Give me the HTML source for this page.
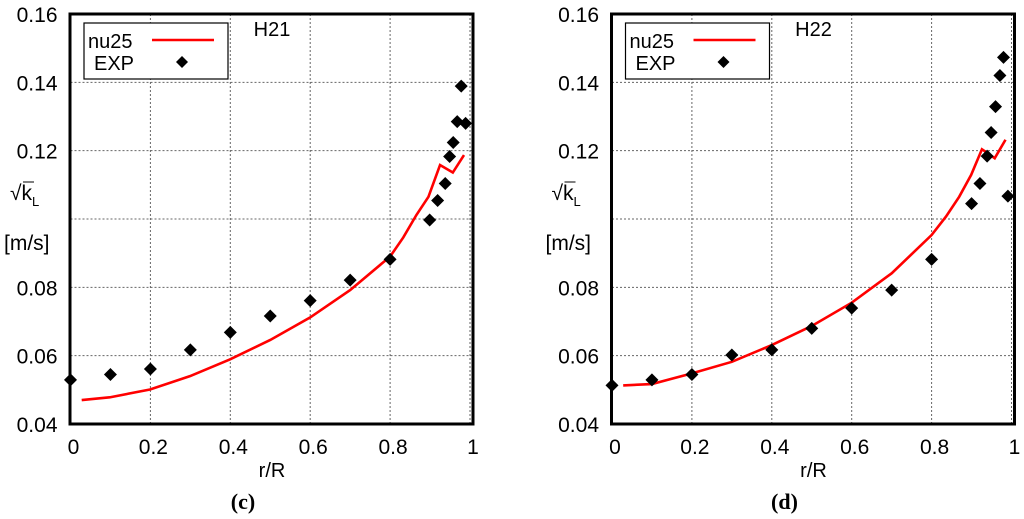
<!DOCTYPE html>
<html><head><meta charset="utf-8"><style>
body{margin:0;background:#fff;}
svg{display:block;font-family:"Liberation Sans",sans-serif;}
</style></head><body>
<svg id="c" width="1024" height="519"></svg>
<script>
const xTicks=[0,0.2,0.4,0.6,0.8,1];
const xTickLabels=["0","0.2","0.4","0.6","0.8","1"];
const yTicks=[0.04,0.06,0.08,0.10,0.12,0.14,0.16];
const yTickLabels=["0.04","0.06","0.08","","0.12","0.14","0.16"];
const h21ExpX=[0,0.1,0.2,0.3,0.4,0.5,0.6,0.7,0.8,0.899,0.919,0.938,0.949,0.958,0.968,0.978,0.989];
const h21ExpY=[0.0529,0.0545,0.0561,0.0617,0.0668,0.0716,0.0761,0.0821,0.0882,0.0997,0.1054,0.1104,0.1183,0.1224,0.1285,0.1389,0.1280];
const h21LineX=[0.028,0.098,0.199,0.299,0.399,0.5,0.6,0.7,0.8,0.833,0.866,0.896,0.925,0.957,0.985];
const h21LineY=[0.047,0.0478,0.0501,0.054,0.0589,0.0646,0.0712,0.0792,0.089,0.0946,0.1012,0.1065,0.1158,0.1136,0.1187];
const h22ExpX=[0,0.1,0.2,0.3,0.4,0.5,0.6,0.7,0.8,0.9,0.921,0.939,0.949,0.96,0.971,0.98,0.991];
const h22ExpY=[0.0513,0.0529,0.0545,0.0602,0.0617,0.068,0.0739,0.0792,0.0882,0.1045,0.1104,0.1184,0.1253,0.1329,0.142,0.1473,0.1067];
const h22LineX=[0.028,0.1,0.2,0.3,0.4,0.5,0.6,0.7,0.8,0.836,0.869,0.899,0.926,0.935,0.958,0.985];
const h22LineY=[0.0513,0.0517,0.0548,0.0582,0.0631,0.0687,0.0755,0.0841,0.0953,0.1007,0.1065,0.1129,0.1204,0.1197,0.1178,0.1232];

const svg=document.getElementById('c');
const NS='http://www.w3.org/2000/svg';
function mk(tag,attrs,parent,text){const e=document.createElementNS(NS,tag);for(const k in attrs)e.setAttribute(k,attrs[k]);if(text!==undefined)e.textContent=text;parent.appendChild(e);return e;}

function panel(off,title,letter,lx,ly,ex,ey,name){
  const g=mk('g',{},svg);
  
  
  const x0=70.5+off,x1=470+off,yb=424,yt=14;
  const sx=v=>x0+(x1-x0)*v;
  const sy=v=>yb-(yb-yt)*(v-0.04)/0.12;
  xTicks.forEach((t,i)=>{
    if(i>0){const l=mk('line',{x1:sx(t),x2:sx(t),y1:yt,y2:yb,stroke:'#666','stroke-width':1,'stroke-dasharray':'2,2'},g);}
    const tl=mk('text',{x:sx(t)+3,y:454,'font-size':21,'text-anchor':'middle',fill:'#000'},g,xTickLabels[i]);
    
  });
  yTicks.forEach((t,i)=>{
    if(i>0&&i<yTicks.length-1){const l=mk('line',{x1:x0,x2:x1+3,y1:sy(t),y2:sy(t),stroke:'#666','stroke-width':1,'stroke-dasharray':'2,2'},g);}
    if(yTickLabels[i]){const tl=mk('text',{x:x0-13,y:sy(t)+8,'font-size':21,'text-anchor':'end',fill:'#000'},g,yTickLabels[i]);
    }
  });
  const fr=mk('rect',{x:70+off,y:14,width:403,height:410,fill:'none',stroke:'#000','stroke-width':3},g);
  
  const pl=mk('polyline',{points:lx.map((v,i)=>sx(v)+','+sy(ly[i])).join(' '),fill:'none',stroke:'#f00','stroke-width':2.6},g);
  
  ex.forEach((v,i)=>{const cx=sx(v),cy=sy(ey[i]);
    const p=mk('polygon',{points:`${cx},${cy-6.5} ${cx+6.5},${cy} ${cx},${cy+6.5} ${cx-6.5},${cy}`,fill:'#000'},g);
    });
  const lg=mk('g',{},g);
  
  mk('rect',{x:84+off,y:23,width:144,height:56,fill:'#fff',stroke:'#000','stroke-width':1.2},lg);
  const t1=mk('text',{x:88+off,y:48,'font-size':20},lg,'nu25');
  
  mk('line',{x1:152+off,x2:214+off,y1:40,y2:40,stroke:'#f00','stroke-width':2.6},lg);
  const t2=mk('text',{x:94+off,y:70,'font-size':20},lg,'EXP');
  
  mk('polygon',{points:`${182+off},${56} ${188+off},${62} ${182+off},${68} ${176+off},${62}`,fill:'#000'},lg);
  const tt=mk('text',{x:272+off,y:36,'font-size':20,'text-anchor':'middle'},g,title);
  
  const yl=mk('text',{x:10+off,y:200,'font-size':21},g);
  
  yl.innerHTML='√k<tspan font-size="13" dy="6">L</tspan>';
  mk('line',{x1:23+off,x2:34+off,y1:182,y2:182,stroke:'#000','stroke-width':1},g);
  const yu=mk('text',{x:4+off,y:250,'font-size':21},g,'[m/s]');
  
  const xl=mk('text',{x:272+off,y:477,'font-size':20,'text-anchor':'middle'},g,'r/R');
  
  const lt=mk('text',{x:243+off,y:509,'font-size':22,'text-anchor':'middle','font-family':'Liberation Serif, serif','font-weight':'bold'},g,letter);
  
}
panel(0,'H21','(c)',h21LineX,h21LineY,h21ExpX,h21ExpY,'panel-h21');
panel(541.5,'H22','(d)',h22LineX,h22LineY,h22ExpX,h22ExpY,'panel-h22');
</script>
</body></html>
